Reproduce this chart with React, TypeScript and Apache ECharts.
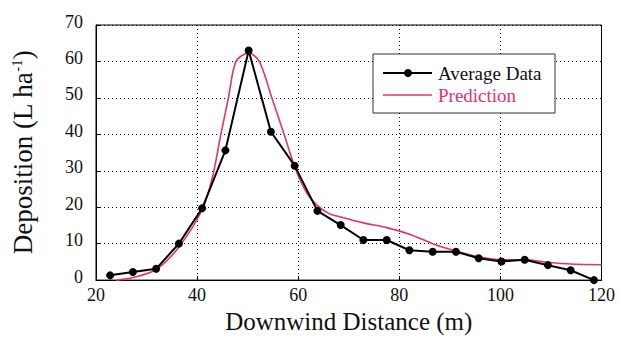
import React, { useEffect, useRef } from "react";
import * as echarts from "echarts";

const avgX = [22.8, 27.3, 31.9, 36.4, 41.0, 45.6, 50.2, 54.6, 59.3, 63.8, 68.4, 72.9, 77.5, 82.0, 86.6, 91.2, 95.7, 100.2, 104.8, 109.4, 113.9, 118.5];
const avgY = [1.3, 2.2, 3.1, 10.0, 19.7, 35.6, 63.0, 40.7, 31.4, 19.0, 15.1, 11.0, 11.0, 8.2, 7.8, 7.8, 6.0, 5.1, 5.6, 4.1, 2.7, 0.0];

const predX = [24, 27.3, 31.9, 36.4, 41, 43, 44.7, 46.2, 47.7, 50.2, 52.3, 54.8, 57.2, 59.6, 61.8, 63.8, 66, 68.4, 72.9, 77.5, 82, 86.6, 91.2, 95.7, 100.2, 104.8, 109.4, 113.9, 120];
const predY = [0, 0.7, 2.9, 9.1, 19.3, 28, 40, 50, 60, 62.3, 60, 50, 40, 30, 23.7, 20.5, 18.3, 17.3, 15.7, 14.4, 12.6, 10.0, 8.0, 6.4, 5.6, 5.6, 4.9, 4.4, 4.2];

const xTicks = { min: 20, max: 120, interval: 20 };
const yTicks = { min: 0, max: 70, interval: 10 };

const seriesNames = ["Average Data", "Prediction"];

const FONT = "Liberation Serif";
const PINK = "#e8306f";

export default function App() {
  const ref = useRef<HTMLDivElement>(null);
  useEffect(() => {
    if (!ref.current) return;
    const chart = echarts.init(ref.current, null, { renderer: "svg" });
    const Z = 100;
    chart.setOption({
      animation: false,
      backgroundColor: "#ffffff",
      textStyle: { fontFamily: FONT },
      grid: {
        left: 96,
        right: 15,
        top: 25,
        bottom: 50,
        show: true,
        borderColor: "#000",
        borderWidth: 1,
      },
      graphic: [
        { type: "rect", z: Z, shape: { x: 373, y: 54, width: 182, height: 59 }, style: { fill: "#fff", stroke: "#333", lineWidth: 1 } },
        { type: "line", z: Z + 1, shape: { x1: 383, y1: 73, x2: 432, y2: 73 }, style: { stroke: "#000", lineWidth: 2 } },
        { type: "circle", z: Z + 2, shape: { cx: 408, cy: 73, r: 4 }, style: { fill: "#000" } },
        { type: "text", z: Z + 1, x: 438, y: 73, style: { text: seriesNames[0], fontFamily: FONT, fontSize: 19, fill: "#111", verticalAlign: "middle", align: "left" } },
        { type: "line", z: Z + 1, shape: { x1: 383, y1: 95, x2: 432, y2: 95 }, style: { stroke: PINK, lineWidth: 1.5 } },
        { type: "text", z: Z + 1, x: 438, y: 95, style: { text: seriesNames[1], fontFamily: FONT, fontSize: 19, fill: PINK, verticalAlign: "middle", align: "left" } },
      ],
      xAxis: {
        type: "value",
        min: xTicks.min,
        max: xTicks.max,
        interval: xTicks.interval,
        name: "Downwind Distance (m)",
        nameLocation: "middle",
        nameGap: 25,
        nameTextStyle: { fontFamily: FONT, fontSize: 25, color: "#111" },
        axisLine: { lineStyle: { color: "#000", width: 1 } },
        axisTick: { inside: true, length: 4, lineStyle: { color: "#000" } },
        axisLabel: {
          fontFamily: FONT, fontSize: 18, color: "#111", margin: 6,
          formatter: "{t|{value}}",
          rich: { t: { fontFamily: FONT, fontSize: 18, color: "#111" } },
        },
        splitLine: { show: true, lineStyle: { color: "#000", type: [1, 3], width: 1 } },
      },
      yAxis: {
        type: "value",
        min: yTicks.min,
        max: yTicks.max,
        interval: yTicks.interval,
        name: "{a|Deposition (L ha}{b|-1}{a|)}",
        nameLocation: "middle",
        nameRotate: 90,
        nameGap: 60,
        nameTextStyle: {
          fontFamily: FONT,
          color: "#111",
          rich: {
            a: { fontFamily: FONT, fontSize: 27, color: "#111" },
            b: { fontFamily: FONT, fontSize: 15, color: "#111", verticalAlign: "top", padding: [0, 0, 11, 0] },
          },
        },
        axisLine: { show: true, lineStyle: { color: "#000", width: 1 } },
        axisTick: { show: true, inside: true, length: 4, lineStyle: { color: "#000" } },
        axisLabel: {
          fontFamily: FONT, fontSize: 18, color: "#111", margin: 13,
          formatter: "{t|{value}}",
          rich: { t: { fontFamily: FONT, fontSize: 18, color: "#111", padding: [0, 0, 7, 0] } },
        },
        splitLine: { show: true, lineStyle: { color: "#000", type: [1, 3], width: 1 } },
      },
      series: [
        {
          name: seriesNames[0],
          type: "line",
          data: avgX.map((x, i) => [x, avgY[i]]),
          symbol: "circle",
          symbolSize: 8,
          itemStyle: { color: "#000" },
          lineStyle: { color: "#000", width: 2 },
          z: 3,
        },
        {
          name: seriesNames[1],
          type: "line",
          data: predX.map((x, i) => [x, predY[i]]),
          showSymbol: false,
          symbol: "none",
          smooth: 0.3,
          itemStyle: { color: PINK },
          lineStyle: { color: PINK, width: 1.6 },
          z: 2,
        },
      ],
    });
    return () => chart.dispose();
  }, []);
  return (
    <div
      ref={ref}
      style={{ position: "fixed", left: 0, top: 0, width: 618, height: 339 }}
    />
  );
}
